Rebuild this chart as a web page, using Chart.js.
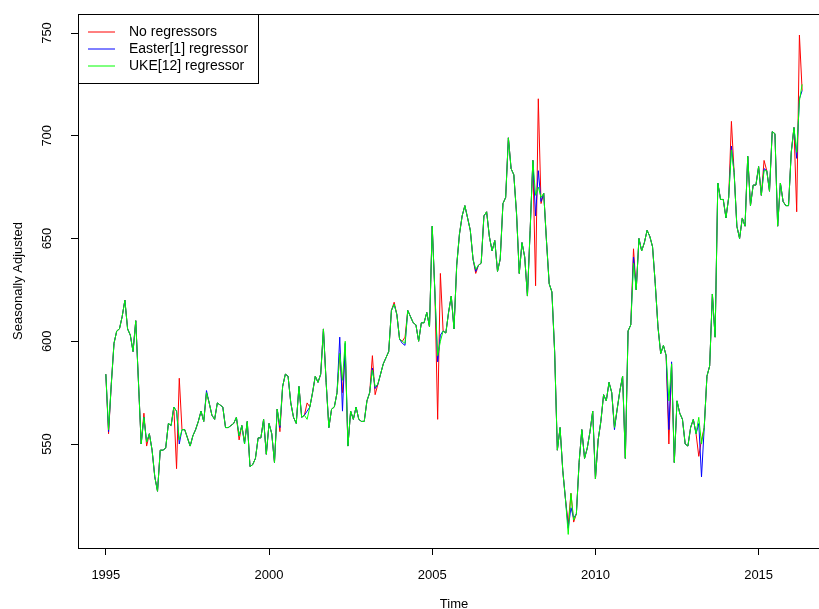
<!DOCTYPE html>
<html>
<head>
<meta charset="utf-8">
<title>Seasonally adjusted series</title>
<script src="https://cdn.jsdelivr.net/npm/chart.js@4.4.1/dist/chart.umd.min.js"></script>
<style>
  html, body { margin: 0; padding: 0; background: #ffffff; overflow: hidden; }
  #wrap { position: absolute; left: 0; top: 0; width: 850px; height: 620px; }
  canvas { display: block; }
</style>
</head>
<body>
<div id="wrap"><canvas id="chart" width="850" height="620"></canvas></div>
<script>
// Monthly series, first observation January 1995
const START_YEAR = 1995;
const PERIODS_PER_YEAR = 12;

const seriesNames = ['No regressors', 'Easter[1] regressor', 'UKE[12] regressor'];
const seriesColors = ['#ff0000', '#0000ff', '#00ff00'];

const noRegressors = [
  584, 555, 579, 599, 605, 606, 612, 620, 606, 603, 595, 610,
  580, 550, 565, 549, 555, 547, 534, 527, 547, 547, 548, 560,
  559, 568, 538, 582, 557, 557, 553, 549, 554, 557, 561, 566,
  561, 575, 570, 564, 562, 570, 569, 568, 558, 558, 559, 560,
  563, 552, 559, 551, 561, 539, 540, 543, 553, 553, 562, 545,
  560, 555, 541, 567, 556, 578, 584, 583, 570, 563, 560, 578,
  563, 564, 570, 568, 575, 583, 580, 584, 606, 580, 558, 567,
  568, 575, 594, 575, 596, 549, 566, 562, 568, 562, 561, 561,
  571, 575, 593, 574, 579, 584, 589, 592, 595, 615, 619, 613,
  601, 600, 602, 615, 612, 609, 608, 600, 609, 609, 614, 607,
  656, 623, 562, 633, 605, 604, 614, 622, 606, 637, 652, 661,
  666, 660, 654, 640, 633, 637, 638, 661, 663, 651, 644, 649,
  634, 640, 667, 670, 699, 684, 681, 662, 633, 648, 641, 622,
  654, 688, 627, 718, 667, 672, 649, 628, 624, 595, 547, 558,
  537, 523, 511, 526, 512, 516, 541, 557, 543, 548, 556, 566,
  533, 552, 561, 574, 571, 580, 575, 558, 567, 576, 583, 543,
  605, 608, 645, 625, 650, 644, 648, 654, 651, 646, 628, 607,
  594, 598, 593, 550, 589, 541, 571, 565, 562, 550, 549, 558,
  562, 555, 544, 552, 558, 583, 588, 623, 602, 677, 669, 669,
  660, 670, 707, 682, 656, 650, 660, 656, 690, 666, 676, 676,
  685, 671, 688, 683, 673, 702, 701, 656, 677, 668, 666, 666,
  692, 704, 663, 749, 722
];

const easter1 = [
  584, 556, 579, 599, 605, 606, 612, 620, 606, 603, 595, 610,
  580, 550, 563, 551, 555, 547, 534, 527, 547, 547, 548, 560,
  559, 568, 566, 550, 557, 557, 553, 549, 554, 557, 561, 566,
  561, 576, 570, 564, 562, 570, 569, 568, 558, 558, 559, 560,
  563, 554, 559, 550, 561, 539, 540, 543, 553, 553, 562, 545,
  560, 555, 541, 567, 558, 578, 584, 583, 570, 563, 560, 578,
  563, 564, 566, 568, 575, 583, 580, 584, 606, 580, 558, 567,
  568, 575, 602, 566, 599, 549, 566, 562, 568, 562, 561, 561,
  571, 575, 587, 577, 579, 584, 589, 592, 595, 615, 618, 613,
  601, 599, 598, 615, 612, 609, 608, 600, 609, 609, 614, 607,
  656, 623, 590, 603, 605, 604, 614, 622, 606, 637, 652, 661,
  666, 660, 654, 640, 634, 637, 638, 661, 663, 651, 644, 649,
  634, 640, 667, 670, 699, 684, 681, 662, 633, 648, 641, 622,
  654, 688, 661, 683, 668, 672, 649, 628, 624, 595, 547, 558,
  537, 523, 509, 519, 514, 516, 541, 557, 543, 548, 556, 566,
  533, 552, 561, 574, 571, 580, 575, 557, 567, 576, 583, 543,
  605, 608, 641, 625, 650, 644, 648, 654, 651, 646, 628, 607,
  594, 598, 593, 557, 590, 541, 571, 565, 562, 550, 549, 558,
  562, 555, 560, 534, 558, 583, 588, 623, 602, 677, 669, 669,
  660, 670, 695, 682, 656, 650, 660, 656, 690, 666, 676, 676,
  685, 671, 684, 683, 673, 702, 701, 656, 677, 668, 666, 666,
  692, 704, 689, 718, 722
];

const uke12 = [
  584, 557, 579, 599, 605, 606, 612, 620, 606, 603, 595, 610,
  580, 550, 563, 551, 555, 547, 534, 527, 547, 547, 548, 560,
  559, 568, 566, 552, 557, 557, 553, 549, 554, 557, 561, 566,
  561, 575, 570, 564, 562, 570, 569, 568, 558, 558, 559, 560,
  563, 554, 559, 550, 561, 539, 540, 543, 553, 553, 562, 545,
  560, 555, 541, 567, 559, 578, 584, 583, 570, 563, 560, 578,
  563, 564, 562, 568, 575, 583, 580, 584, 606, 580, 558, 567,
  568, 575, 594, 581, 600, 549, 566, 562, 568, 562, 561, 561,
  571, 575, 586, 578, 579, 584, 589, 592, 595, 615, 618, 613,
  601, 600, 599, 615, 612, 609, 608, 600, 609, 609, 614, 607,
  656, 623, 593, 600, 605, 604, 614, 622, 606, 637, 652, 661,
  666, 660, 654, 640, 635, 637, 638, 661, 663, 651, 644, 649,
  634, 640, 667, 670, 699, 684, 681, 662, 633, 648, 641, 622,
  654, 688, 671, 675, 670, 672, 649, 628, 624, 595, 547, 558,
  537, 523, 506, 526, 513, 516, 541, 557, 543, 548, 556, 566,
  533, 552, 561, 574, 571, 580, 575, 558, 567, 576, 583, 543,
  605, 608, 638, 625, 650, 644, 648, 654, 651, 646, 628, 607,
  594, 598, 593, 571, 589, 541, 571, 565, 562, 550, 549, 558,
  562, 555, 563, 550, 558, 583, 588, 623, 602, 677, 669, 669,
  660, 670, 693, 682, 656, 650, 660, 656, 690, 666, 676, 676,
  685, 671, 683, 683, 673, 702, 701, 656, 677, 668, 666, 666,
  692, 704, 692, 717, 725
];

const xTicks = [1995, 2000, 2005, 2010, 2015];
const yTicks = [550, 600, 650, 700, 750];
const xTitle = 'Time';
const yTitle = 'Seasonally Adjusted';

// ---- layout (pixels) ----
const W = 850, H = 620;
const AREA = { left: 78, top: 14, right: 830, bottom: 548 };
const X_RANGE = [1994.147, 2017.187];
const Y_RANGE = [499.4, 759.25];
const FONT = 'Liberation Sans, Arial, Helvetica, sans-serif';

function toPoints(values) {
  return values.map((v, i) => ({ x: START_YEAR + i / PERIODS_PER_YEAR, y: v }));
}

// keep the plot region fixed: no extra room reserved for overhanging tick labels
function fixPadding(s) {
  s.paddingTop = 0; s.paddingBottom = 0; s.paddingLeft = 0; s.paddingRight = 0;
}

// plot frame around the data region
const framePlugin = {
  id: 'frame',
  afterDraw(chart) {
    const { ctx, chartArea: a } = chart;
    ctx.save();
    ctx.strokeStyle = '#000';
    ctx.lineWidth = 1;
    ctx.strokeRect(Math.round(a.left) + 0.5, Math.round(a.top) + 0.5,
                   Math.round(a.right - a.left), Math.round(a.bottom - a.top));
    ctx.restore();
  }
};

// boxed legend in the top-left corner of the plot region
const boxLegendPlugin = {
  id: 'boxLegend',
  afterDraw(chart) {
    const { ctx, chartArea: a } = chart;
    const sets = chart.data.datasets;
    const boxW = 180, rowH = 17, padTop = 9;
    const boxH = padTop * 2 + rowH * sets.length;
    ctx.save();
    ctx.strokeStyle = '#000';
    ctx.lineWidth = 1;
    ctx.strokeRect(Math.round(a.left) + 0.5, Math.round(a.top) + 0.5, boxW, boxH);
    ctx.font = '14px ' + FONT;
    ctx.textBaseline = 'middle';
    ctx.textAlign = 'left';
    sets.forEach((ds, k) => {
      const y = a.top + padTop + rowH * k + rowH / 2 + 0.5;
      ctx.strokeStyle = ds.borderColor;
      ctx.beginPath();
      ctx.moveTo(a.left + 10, y);
      ctx.lineTo(a.left + 37, y);
      ctx.stroke();
      ctx.fillStyle = '#000';
      ctx.fillText(ds.label, a.left + 51, y);
    });
    ctx.restore();
  }
};

const datasets = [noRegressors, easter1, uke12].map((vals, k) => ({
  label: seriesNames[k],
  data: toPoints(vals),
  borderColor: seriesColors[k],
  backgroundColor: seriesColors[k],
  borderWidth: 1,
  pointRadius: 0,
  tension: 0,
  fill: false,
  order: 3 - k   // later series drawn on top
}));

new Chart(document.getElementById('chart'), {
  type: 'line',
  data: { datasets },
  options: {
    responsive: false,
    animation: false,
    devicePixelRatio: 1,
    layout: { padding: { left: 0, top: AREA.top, right: W - AREA.right, bottom: 0 } },
    plugins: { legend: { display: false }, tooltip: { enabled: false } },
    scales: {
      x: {
        type: 'linear',
        min: X_RANGE[0],
        max: X_RANGE[1],
        afterBuildTicks: s => { s.ticks = xTicks.map(v => ({ value: v })); },
        afterFit: s => { s.height = H - AREA.bottom; fixPadding(s); },
        border: { display: false },
        grid: { drawOnChartArea: false, drawTicks: true, tickLength: 7, color: '#000', lineWidth: 1 },
        ticks: {
          color: '#000', autoSkip: false, maxRotation: 0, padding: 13,
          font: { family: FONT, size: 13 },
          callback: v => String(v)
        },
        title: {
          display: true, text: xTitle, color: '#000',
          font: { family: FONT, size: 13 }, padding: { top: 0, bottom: 8 }
        }
      },
      y: {
        type: 'linear',
        min: Y_RANGE[0],
        max: Y_RANGE[1],
        afterBuildTicks: s => { s.ticks = yTicks.map(v => ({ value: v })); },
        afterFit: s => { s.width = AREA.left; fixPadding(s); },
        border: { display: false },
        grid: { drawOnChartArea: false, drawTicks: true, tickLength: 7, color: '#000', lineWidth: 1 },
        ticks: {
          color: '#000', autoSkip: false, minRotation: 90, maxRotation: 90,
          crossAlign: 'center', padding: 13,
          font: { family: FONT, size: 13 },
          callback: v => String(v)
        },
        title: {
          display: true, text: yTitle, color: '#000',
          font: { family: FONT, size: 13 }, padding: { top: 11, bottom: 0 }
        }
      }
    }
  },
  plugins: [framePlugin, boxLegendPlugin]
});
</script>
</body>
</html>
